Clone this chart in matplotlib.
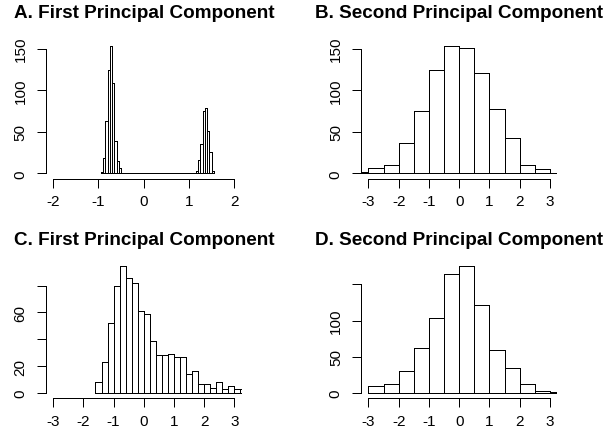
import matplotlib
matplotlib.use("Agg")
import matplotlib.pyplot as plt
import numpy as np

# ---------------- data ----------------
# Panel A: first principal component (bin width 0.05, first bin starts at -0.95)
a_bin_start = -0.95
a_bin_width = 0.05
a_counts = [2, 18, 63, 124, 153, 109, 39, 15, 7] + [0] * 33 + [3, 16, 35, 75, 79, 51, 26, 3]
a_xticks = [-2, -1, 0, 1, 2]
a_yticks = [0, 50, 100, 150]
a_ylabels = ["0", "50", "100", "150"]

# Panel B: second principal component (bin width 0.5, first bin starts at -3.5)
b_bin_start = -3.5
b_bin_width = 0.5
b_counts = [2, 6, 10, 37, 75, 124, 153, 151, 121, 78, 43, 10, 5, 1]
b_xticks = [-3, -2, -1, 0, 1, 2, 3]
b_yticks = [0, 50, 100, 150]
b_ylabels = ["0", "50", "100", "150"]

# Panel C: first principal component (bin width 0.2, first bin starts at -1.6)
c_bin_start = -1.6
c_bin_width = 0.2
c_counts = [8, 23, 52, 80, 95, 86, 82, 61, 59, 39, 28, 28, 29, 27, 27,
            14, 16, 7, 7, 4, 8, 3, 5, 3, 3]
c_xticks = [-3, -2, -1, 0, 1, 2, 3]
c_yticks = [0, 20, 40, 60, 80]
c_ylabels = ["0", "20", "", "60", ""]

# Panel D: second principal component (bin width 0.5, first bin starts at -3.0)
d_bin_start = -3.0
d_bin_width = 0.5
d_counts = [10, 13, 30, 62, 104, 164, 176, 122, 59, 35, 12, 3, 1]
d_xticks = [-3, -2, -1, 0, 1, 2, 3]
d_yticks = [0, 50, 100, 150]
d_ylabels = ["0", "50", "100", ""]

titles = ["A. First Principal Component", "B. Second Principal Component",
          "C. First Principal Component", "D. Second Principal Component"]

# ---------------- layout ----------------
W, H = 605, 435
fig = plt.figure(figsize=(W / 100, H / 100), dpi=100)
fig.patch.set_facecolor("white")

TICK_FONT = ["Liberation Sans Narrow", "Liberation Sans", "DejaVu Sans"]
TITLE_FONT = ["Liberation Sans", "DejaVu Sans"]
LW = 0.72  # one pixel at 100 dpi


def rect(l, t, r, b):
    return [l / W, 1 - b / H, (r - l) / W, (b - t) / H]


def panel(box, start, width, counts, xticks, yticks, ylabels, title, title_y):
    ax = fig.add_axes(rect(*box))
    counts = np.asarray(counts, dtype=float)
    lefts = start + width * np.arange(len(counts))
    ax.bar(lefts, counts, width=width, align="edge", color="white",
           edgecolor="black", linewidth=LW, antialiased=False)
    span = xticks[-1] - xticks[0]
    ax.set_xlim(xticks[0] - 0.04 * span, xticks[-1] + 0.04 * span)
    ymax = counts.max()
    ax.set_ylim(-0.04 * ymax, 1.04 * ymax)
    for s in ("top", "right"):
        ax.spines[s].set_visible(False)
    for s in ("left", "bottom"):
        ax.spines[s].set_linewidth(LW)
        ax.spines[s].set_antialiased(False)
    ax.spines["bottom"].set_bounds(xticks[0], xticks[-1])
    ax.spines["left"].set_bounds(yticks[0], yticks[-1])
    ax.set_xticks(xticks)
    ax.set_xticklabels([str(v) for v in xticks], family=TICK_FONT, fontsize=11)
    ax.set_yticks(yticks)
    ax.set_yticklabels(ylabels, family=TICK_FONT, fontsize=11,
                       rotation=90, va="center")
    ax.tick_params(axis="both", direction="out", length=6.2, width=LW,
                   color="black")
    ax.tick_params(axis="x", pad=5.0)
    ax.tick_params(axis="y", pad=7.0)
    ax.patch.set_visible(False)
    x0, x1 = box[0], box[2]
    fig.text(((x0 + x1) / 2) / W, 1 - title_y / H, title, ha="center",
             va="baseline", fontsize=13.6, fontweight="bold", family=TITLE_FONT)
    return ax


panel((46.0, 42.0, 241.5, 179.5), a_bin_start, a_bin_width, a_counts,
      a_xticks, a_yticks, a_ylabels, titles[0], 18.3)
panel((361.2, 42.0, 557.2, 179.5), b_bin_start, b_bin_width, b_counts,
      b_xticks, b_yticks, b_ylabels, titles[1], 18.3)
panel((46.0, 261.5, 241.5, 399.0), c_bin_start, c_bin_width, c_counts,
      c_xticks, c_yticks, c_ylabels, titles[2], 244.7)
panel((361.2, 261.5, 557.2, 399.0), d_bin_start, d_bin_width, d_counts,
      d_xticks, d_yticks, d_ylabels, titles[3], 244.7)

fig.savefig("out.png", dpi=100, facecolor="white")
